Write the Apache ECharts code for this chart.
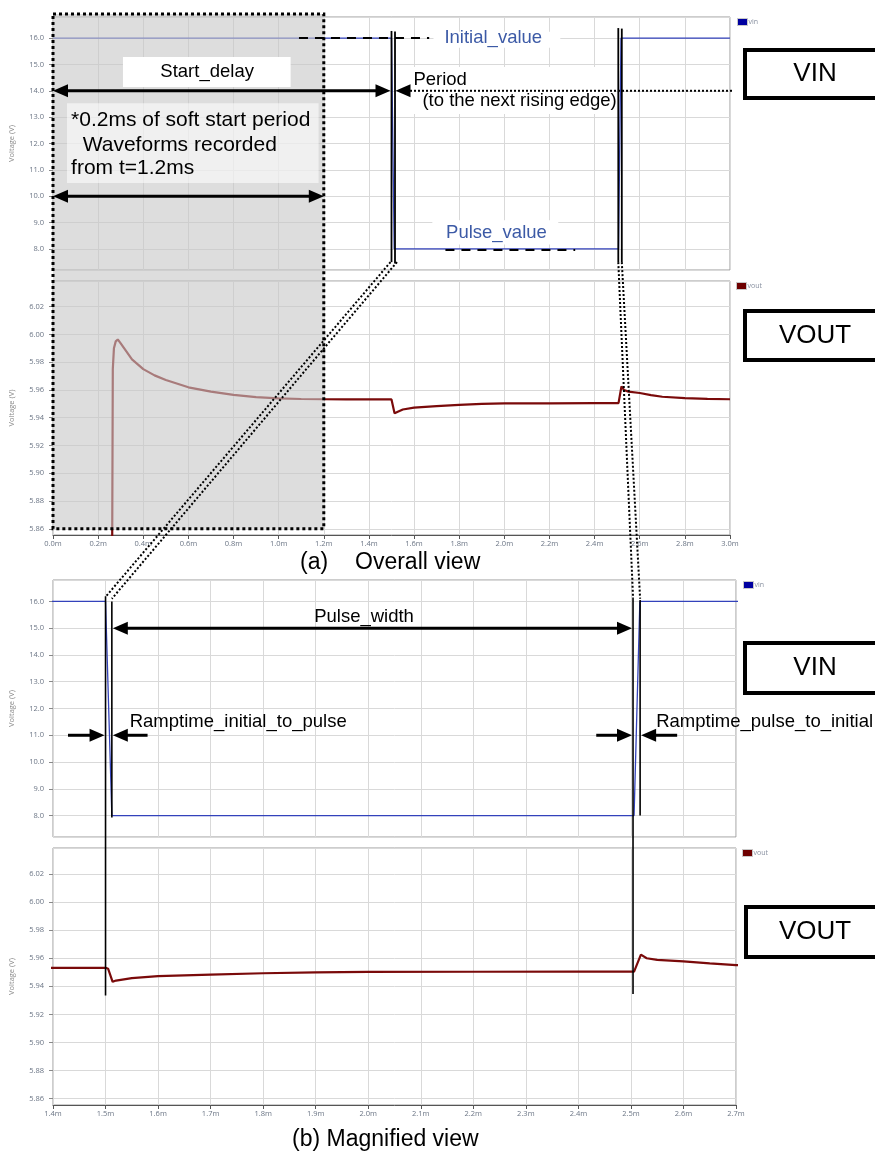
<!DOCTYPE html>
<html><head><meta charset="utf-8">
<script src="https://cdn.jsdelivr.net/npm/echarts@6/dist/echarts.min.js"></script>
<style>html,body{margin:0;padding:0;background:#fff}#c{width:875px;height:1156px}</style>
</head><body><div id="c"></div>
<script>
// ---- data (time in ms, voltage in V) ----
const vinTime = [0, 1.5, 1.512, 2.506, 2.517, 3.0];
const vinVolt = [16, 16, 8, 8, 16, 16];
const voutTime = [0, 0.06, 0.2615, 0.2625, 0.265, 0.27, 0.278, 0.287, 0.3, 0.35,
  0.4, 0.45, 0.5, 0.6, 0.7, 0.8, 0.9, 1.0, 1.1, 1.2,
  1.3, 1.4, 1.5, 1.505, 1.5135, 1.52, 1.55, 1.6, 1.7, 1.8,
  1.9, 2.0, 2.2, 2.4, 2.506, 2.519, 2.53, 2.55, 2.6, 2.65,
  2.7, 2.8, 2.9, 3.0];
const voutVolt = [0, 0, 5.80, 5.86, 5.975, 5.99, 5.995, 5.9964, 5.9935, 5.982,
  5.975, 5.9705, 5.9672, 5.9619, 5.9588, 5.9564, 5.9549, 5.954, 5.9535, 5.9533,
  5.9532, 5.9532, 5.9532, 5.9525, 5.9432, 5.9441, 5.9459, 5.9473, 5.9483, 5.9493,
  5.95, 5.9503, 5.9504, 5.9505, 5.9505, 5.9626, 5.96, 5.9588, 5.9578, 5.9563,
  5.9551, 5.9541, 5.9536, 5.9533];
const overallRange = [0, 3.0], overallStep = 0.2;
const magnifiedRange = [1.4, 2.7], magnifiedStep = 0.1;
const vinRange = [7.2, 16.8], vinStep = 1;
const voutRange = [5.8555, 6.0385], voutStep = 0.02;
const seriesNames = ['vin', 'vout'];
const captions = ['(a)', 'Overall view', '(b) Magnified view'];

const vinData = vinTime.map((t, i) => [t, vinVolt[i]]);
const voutData = voutTime.map((t, i) => [t, voutVolt[i]]);

const chart = echarts.init(document.getElementById('c'), null, {renderer: 'canvas'});
const labelColor = '#6b7585';
const gridLine = '#d9d9d9';
const grids = [
  {left: 52, top: 17, width: 678, height: 253},
  {left: 52, top: 281, width: 678, height: 254},
  {left: 51, top: 580, width: 685, height: 257},
  {left: 51, top: 848, width: 685, height: 257}
].map(g => Object.assign(g, {show: true, borderColor: '#9a9a9a', borderWidth: 1, backgroundColor: 'transparent'}));

const xAxes = [0, 1, 2, 3].map(i => {
  const r = i < 2 ? overallRange : magnifiedRange;
  const st = i < 2 ? overallStep : magnifiedStep;
  const bottom = i % 2 === 1;
  return {
    type: 'value', gridIndex: i, min: r[0], max: r[1], interval: st,
    axisLine: {show: bottom, lineStyle: {color: '#555'}},
    axisTick: {show: bottom, length: 4, lineStyle: {color: '#555'}},
    axisLabel: {show: bottom, fontSize: 7.5, color: labelColor, margin: 5, fontFamily: 'Open Sans',
      formatter: v => v.toFixed(1) + 'm'},
    splitLine: {show: true, lineStyle: {color: gridLine, width: 1}}
  };
});
const yAxes = [0, 1, 2, 3].map(i => {
  const isVin = i % 2 === 0;
  const r = isVin ? vinRange : voutRange;
  const st = isVin ? vinStep : voutStep;
  return {
    type: 'value', gridIndex: i, min: r[0], max: r[1],
    splitNumber: isVin ? 10 : 9, minInterval: st, maxInterval: st,
    name: 'Voltage (V)', nameLocation: 'middle', nameGap: 37,
    nameTextStyle: {fontSize: 7.5, color: '#8a8a8a', fontFamily: 'Open Sans'},
    axisLine: {show: false},
    axisTick: {show: true, length: 4, lineStyle: {color: '#888'}},
    axisLabel: {fontSize: 7.5, color: labelColor, margin: 9, fontFamily: 'Open Sans',
      showMinLabel: false, showMaxLabel: false,
      formatter: v => v.toFixed(isVin ? 1 : 2)},
    splitLine: {show: true, lineStyle: {color: gridLine, width: 1}}
  };
});
const mkSeries = (i) => {
  const isVin = i % 2 === 0;
  return {
    type: 'line', name: isVin ? seriesNames[0] : seriesNames[1],
    xAxisIndex: i, yAxisIndex: i, data: isVin ? vinData : voutData,
    showSymbol: false, symbol: 'none', clip: true, z: 3,
    lineStyle: {color: isVin ? '#3342bb' : '#7a0a0a', width: isVin ? 1.3 : 2.2},
    itemStyle: {color: isVin ? '#3342bb' : '#7a0a0a'}
  };
};
const legendPos = [[737, 18], [736, 282], [743, 581], [742, 849]];
const legends = legendPos.map((p, i) => ({
  data: [i % 2 === 0 ? seriesNames[0] : seriesNames[1]],
  left: p[0], top: p[1], padding: 0, itemWidth: 10, itemHeight: 7, icon: 'rect',
  selectedMode: false,
  itemStyle: {color: i % 2 === 0 ? '#0000a0' : '#6e0000', borderColor: '#c8c8c8', borderWidth: 1},
  textStyle: {fontSize: 7, color: '#8890a0', padding: [0, 0, 0, -4], fontFamily: 'Open Sans'}
}));

chart.setOption({
  animation: false,
  backgroundColor: '#fff',
  grid: grids, xAxis: xAxes, yAxis: yAxes,
  legend: legends,
  series: [0, 1, 2, 3].map(mkSeries)
});

// ---- annotations placed through the chart's scales ----
const P = (g, x, y) => chart.convertToPixel({gridIndex: g}, [x, y]);
const G = [];
const FONT = '"Liberation Sans", Arial, sans-serif';
function ln(x1, y1, x2, y2, w, dash, z) {
  G.push({type: 'line', z: z || 20, silent: true, shape: {x1, y1, x2, y2},
    style: {stroke: '#000', lineWidth: w, lineDash: dash || null}});
}
function head(tx, ty, dir) {
  const L = 15, H = 13;
  G.push({type: 'polygon', z: 21, silent: true,
    shape: {points: [[tx, ty], [tx - dir * L, ty - H / 2], [tx - dir * L, ty + H / 2]]},
    style: {fill: '#000'}});
}
function arrow2(xa, xb, y) { ln(xa + 8, y, xb - 8, y, 3); head(xa, y, -1); head(xb, y, 1); }
function box(x1, y1, x2, y2, fill, stroke, w, dash, z) {
  G.push({type: 'rect', z: z || 15, silent: true,
    shape: {x: Math.min(x1, x2), y: Math.min(y1, y2), width: Math.abs(x2 - x1), height: Math.abs(y2 - y1)},
    style: {fill: fill || 'none', stroke: stroke || 'none', lineWidth: w || 0, lineDash: dash || null}});
}
function txt(x, y, s, size, color, align) {
  G.push({type: 'text', z: 25, silent: true, x: x, y: y,
    style: {text: s, font: size + 'px ' + FONT, fill: color || '#000',
      align: align || 'left', textAlign: align || 'left',
      verticalAlign: 'middle', textVerticalAlign: 'middle'}});
}
const xT = x => P(0, x, 0)[0], yT = y => P(0, 0, y)[1];
const yTo = y => P(1, 0, y)[1];
const xB = x => P(2, x, 0)[0], yB = y => P(2, 0, y)[1], yBo = y => P(3, 0, y)[1];
const blue = '#3c5aa6';

// shaded soft-start region
const sx0 = xT(0), sx1 = xT(1.2), sy0 = yT(16.8) - 3, sy1 = yTo(5.86);
box(sx0, sy0, sx1, sy1, 'rgba(198,198,198,0.6)', null, 0, null, 10);
box(sx0, sy0, sx1, sy1, 'none', '#000', 3, [3, 3], 16);

// Start_delay
box(xT(0.31), yT(15.28), xT(1.053), yT(14.14), '#fff');
txt(xT(0.683), yT(14.7), 'Start_delay', 18.5, '#000', 'center');
const X0 = xT(1.5), X0b = X0 + 3.5, X1 = xT(2.505), X1b = X1 + 3.5;
arrow2(sx0, X0 - 1, yT(14));
// note box
box(xT(0.062), yT(13.53), xT(1.177), yT(10.5), 'rgba(255,255,255,0.55)');
txt(xT(0.08), yT(12.89), '*0.2ms of soft start period', 21);
txt(xT(0.08), yT(11.94), '  Waveforms recorded', 21);
txt(xT(0.08), yT(11.07), 'from t=1.2ms', 21);
arrow2(sx0, sx1, yT(10));
// initial value
ln(xT(1.09), yT(16), xT(1.667), yT(16), 2, [9, 7]);
box(xT(1.686), yT(16.24), xT(2.248), yT(15.63), '#fff');
txt(xT(1.951), yT(16), 'Initial_value', 18.5, blue, 'center');
// edge markers
ln(X0, yT(16.27), X0, yT(7.5), 1.8);
ln(X0b, yT(16.25), X0b, yT(7.45), 1.8);
ln(X1, yT(16.38), X1, yT(7.5), 1.8);
ln(X1b, yT(16.36), X1b, yT(7.5), 1.8);
// period
box(xT(1.575), yT(14.9), xT(2.49), yT(13.12), '#fff');
head(X0b + 0.5, yT(14), -1);
ln(X0b + 15, yT(14), xT(3.0) + 2, yT(14), 2, [2, 2]);
txt(xT(1.597), yT(14.41), 'Period', 18.5);
txt(xT(1.637), yT(13.61), '(to the next rising edge)', 18.5);
// pulse value
box(xT(1.681), yT(9.09), xT(2.239), yT(8.17), '#fff');
txt(xT(1.965), yT(8.6), 'Pulse_value', 18.5, blue, 'center');
ln(xT(1.739), yT(8) + 1, xT(2.314), yT(8) + 1, 2, [9, 7]);

// zoom connector lines
const Xb0 = xB(1.5), Xb0b = xB(1.512), Xb1 = xB(2.504), Xb1b = xB(2.5175);
const yb0 = yT(7.5);
ln(X0 - 1, yb0, Xb0, yB(16.17), 2, [2, 2]);
ln(X0b + 2, yb0, Xb0b, yB(16.1), 2, [2, 2]);
ln(X1, yb0, Xb1, yB(16.17), 2, [2, 2]);
ln(X1b, yb0, Xb1b, yB(16.1), 2, [2, 2]);

// magnified view markers
ln(Xb0, yB(16.19), Xb0, yBo(5.9335), 1.6);
ln(Xb0b, yB(16.0), Xb0b, yB(7.93), 1.6);
ln(Xb1, yB(16.15), Xb1, yBo(5.9345), 1.6);
ln(Xb1b, yB(16.05), Xb1b, yB(8.0), 1.6);
const y15 = yB(15);
ln(Xb0b + 8, y15, Xb1 - 8, y15, 3); head(Xb0b + 1, y15, -1); head(Xb1 - 1, y15, 1);
txt(xB(1.992), yB(15.44), 'Pulse_width', 18.5, '#000', 'center');
const y11 = yB(11);
ln(xB(1.4285), y11, Xb0 - 8, y11, 3); head(Xb0 - 1, y11, 1);
ln(xB(1.58), y11, Xb0b + 8, y11, 3); head(Xb0b + 1, y11, -1);
txt(xB(1.546), yB(11.5), 'Ramptime_initial_to_pulse', 18.5);
ln(xB(2.434), y11, Xb1 - 8, y11, 3); head(Xb1 - 1, y11, 1);
ln(xB(2.588), y11, Xb1b + 8, y11, 3); head(Xb1b + 1, y11, -1);
txt(xB(2.548), yB(11.5), 'Ramptime_pulse_to_initial', 18.5);

// signal label boxes
function labelBox(x, y, h, s) {
  box(x, y, x + 140, y + h, '#fff', '#000', 4, null, 20);
  txt(815, y + h / 2, s, 26, '#000', 'center');
}
labelBox(745, 50, 48, 'VIN');
labelBox(745, 311, 49, 'VOUT');
labelBox(745, 643, 50, 'VIN');
labelBox(746, 907, 50, 'VOUT');

// captions
txt(300, 563, captions[0], 23);
txt(355, 563, captions[1], 23);
txt(292, 1140, captions[2], 23);

chart.setOption({graphic: {elements: G}});
</script>
</body></html>
